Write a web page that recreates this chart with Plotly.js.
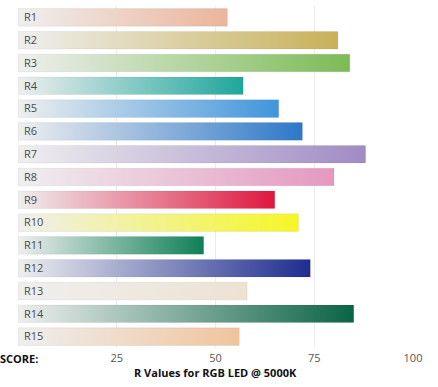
<!DOCTYPE html>
<html>
<head>
<meta charset="utf-8">
<script src="https://cdn.plot.ly/plotly-3.0.1.min.js"></script>
<style>html,body{margin:0;padding:0;background:#fff;}#chart{width:438px;height:387px;}</style>
</head>
<body>
<div id="chart"></div>
<script>
const labels = ['R1','R2','R3','R4','R5','R6','R7','R8','R9','R10','R11','R12','R13','R14','R15'];
const values = [53, 81, 84, 57, 66, 72, 88, 80, 65, 71, 47, 74, 58, 85, 56];
const endColors = ['#ecb49b','#c8b159','#7cbb55','#1fa69c','#3f95dc','#2e78c8','#a08bc4','#e598c0','#e0173f','#f6f626','#0e8057','#1e2d90','#eee2d2','#0b6446','#f0c49c'];
const startColor = '#efefef';
const xTickVals = [25, 50, 75, 100];
const xTickText = ['25', '50', '75', '100'];
const scoreLabel = 'SCORE:';
const chartTitle = 'R Values for RGB LED @ 5000K';

const half = 0.385;
const traces = labels.map((lab, i) => {
  const v = values[i];
  return {
    type: 'scatter',
    mode: 'lines',
    x: [0, v, v, 0, 0],
    y: [i - half, i - half, i + half, i + half, i - half],
    fill: 'toself',
    fillgradient: {type: 'horizontal', colorscale: [[0, startColor], [1, endColors[i]]]},
    line: {width: 0.8, color: 'rgba(0,0,0,0.07)'},
    hoverinfo: 'skip',
    showlegend: false
  };
});

const layout = {
  width: 438, height: 387,
  margin: {l: 18, r: 25, t: 6, b: 39},
  paper_bgcolor: '#ffffff', plot_bgcolor: '#ffffff',
  font: {family: '"Open Sans", sans-serif', size: 11, color: '#555'},
  showlegend: false,
  xaxis: {
    range: [0, 100], fixedrange: true,
    tickvals: xTickVals, ticktext: xTickText,
    showgrid: true, gridcolor: '#ececec', gridwidth: 1,
    zeroline: false, showline: false, ticks: '',
    ticklabelstandoff: 2,
    tickfont: {size: 11, color: '#555'}
  },
  yaxis: {
    range: [14.5, -0.5], fixedrange: true,
    tickvals: labels.map((_, i) => i), ticktext: labels,
    ticklabelposition: 'inside', ticklabelstandoff: 3,
    showgrid: false, zeroline: false, showline: false, ticks: '',
    tickfont: {size: 11, color: '#4a4a4a'}
  },
  annotations: [
    {
      x: 0, xref: 'x', xshift: 1, y: 0, yref: 'paper', yshift: -10,
      yanchor: 'middle', xanchor: 'center', showarrow: false,
      text: '<b>' + scoreLabel + '</b>', font: {size: 11, color: '#111'}
    },
    {
      x: 0.5, xref: 'paper', y: 0, yref: 'paper', yshift: -24,
      yanchor: 'middle', xanchor: 'center', showarrow: false,
      text: '<b>' + chartTitle + '</b>', font: {size: 11, color: '#111'}
    }
  ]
};

Plotly.newPlot('chart', traces, layout, {displayModeBar: false, staticPlot: true});
</script>
</body>
</html>
